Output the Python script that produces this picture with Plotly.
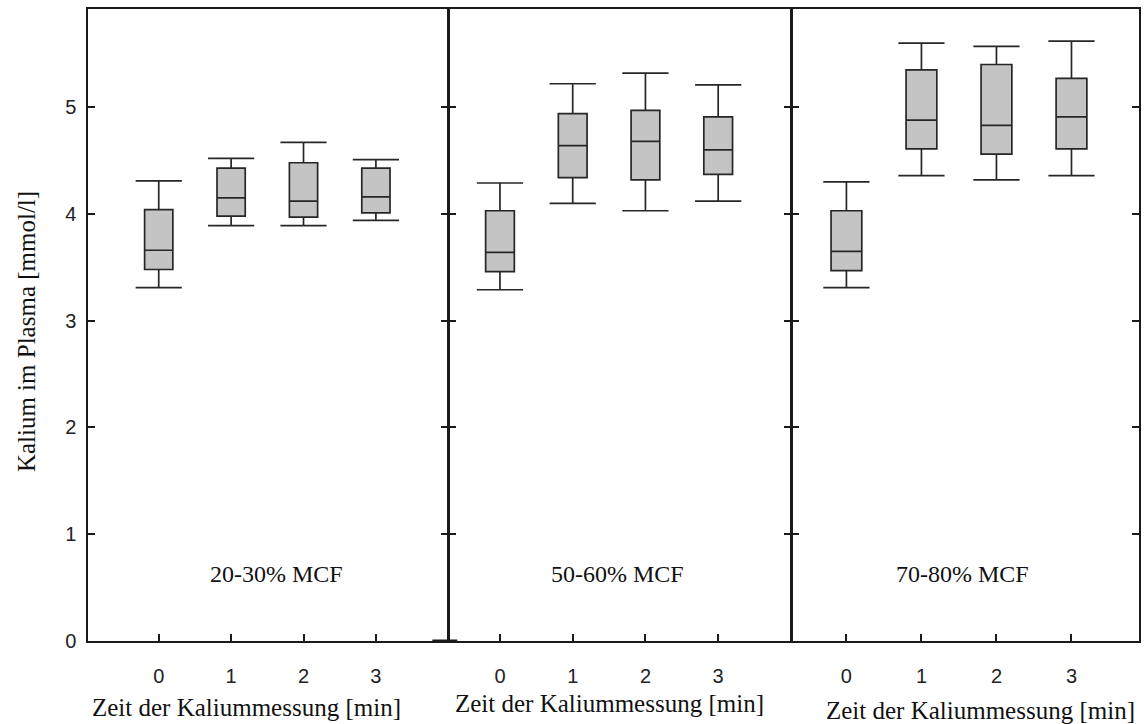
import plotly.graph_objects as go

# ---------------- data ----------------
times = [0, 1, 2, 3]
tick_labels = ["0", "1", "2", "3"]
panel_labels = ["20-30% MCF", "50-60% MCF", "70-80% MCF"]
x_title = "Zeit der Kaliummessung [min]"
y_title = "Kalium im Plasma [mmol/l]"

# Panel 1: 20-30% MCF
p1_lower = [3.31, 3.89, 3.89, 3.94]
p1_q1 = [3.48, 3.98, 3.97, 4.01]
p1_med = [3.66, 4.15, 4.12, 4.16]
p1_q3 = [4.04, 4.43, 4.48, 4.43]
p1_upper = [4.31, 4.52, 4.67, 4.51]

# Panel 2: 50-60% MCF
p2_lower = [3.29, 4.10, 4.03, 4.12]
p2_q1 = [3.46, 4.34, 4.32, 4.37]
p2_med = [3.64, 4.64, 4.68, 4.60]
p2_q3 = [4.03, 4.94, 4.97, 4.91]
p2_upper = [4.29, 5.22, 5.32, 5.21]

# Panel 3: 70-80% MCF
p3_lower = [3.31, 4.36, 4.32, 4.36]
p3_q1 = [3.47, 4.61, 4.56, 4.61]
p3_med = [3.65, 4.88, 4.83, 4.91]
p3_q3 = [4.03, 5.35, 5.40, 5.27]
p3_upper = [4.30, 5.60, 5.57, 5.62]

panels = [
    (p1_lower, p1_q1, p1_med, p1_q3, p1_upper),
    (p2_lower, p2_q1, p2_med, p2_q3, p2_upper),
    (p3_lower, p3_q1, p3_med, p3_q3, p3_upper),
]

# ---------------- layout geometry ----------------
W, H = 1148, 724
ML, MR, MT, MB = 88, 7, 9, 83
PW = W - ML - MR
PH = H - MT - MB

def fx(px):
    return (px - ML) / PW

def fy(py):
    return (H - MB - py) / PH

LW = 1.5
# leave a gap of one line width so that the outward-drawn border lines of
# neighbouring panels fall on the same pixels
domains = [[0, fx(449 - LW / 2)],
           [fx(449 + LW / 2), fx(793 - LW / 2)],
           [fx(793 + LW / 2), 1]]
x_ranges = [[-0.977, 3.99], [-0.70, 4.0], [-0.72, 3.90]]
box_widths = [0.39, 0.395, 0.41]
y_range = [0, 5.92]

LINE = "#1a1a1a"
BOXLINE = "#262626"
FILL = "#c4c4c4"
SANS = "Liberation Sans, Arial, sans-serif"
SERIF = "Liberation Serif, Times New Roman, serif"

fig = go.Figure()

for i, (lo, q1, med, q3, up) in enumerate(panels):
    xa = "x" if i == 0 else f"x{i+1}"
    ya = "y" if i == 0 else f"y{i+1}"
    fig.add_trace(go.Box(
        x=times, q1=q1, median=med, q3=q3, lowerfence=lo, upperfence=up,
        xaxis=xa, yaxis=ya, width=box_widths[i], whiskerwidth=0,
        fillcolor=FILL, line=dict(color=BOXLINE, width=1.7),
        boxpoints=False, showlegend=False, hoverinfo="skip",
    ))
    # whisker caps
    fig.add_trace(go.Scatter(
        x=times + times, y=lo + up, mode="markers",
        marker=dict(symbol="line-ew", size=33, color=BOXLINE,
                    line=dict(color=BOXLINE, width=1.7)),
        xaxis=xa, yaxis=ya, showlegend=False, hoverinfo="skip",
    ))

layout = dict(
    width=W, height=H,
    margin=dict(l=ML, r=MR, t=MT, b=MB),
    paper_bgcolor="white", plot_bgcolor="white",
    showlegend=False,
)

for i in range(3):
    xk = "xaxis" if i == 0 else f"xaxis{i+1}"
    yk = "yaxis" if i == 0 else f"yaxis{i+1}"
    ya = "y" if i == 0 else f"y{i+1}"
    xa = "x" if i == 0 else f"x{i+1}"
    layout[xk] = dict(
        domain=domains[i], range=x_ranges[i], anchor=ya,
        tickmode="array", tickvals=times, ticktext=tick_labels,
        ticks="inside", ticklen=7, tickwidth=1.5, tickcolor=LINE,
        showline=True, linewidth=LW, linecolor=LINE, mirror=True,
        showgrid=False, zeroline=False,
        tickfont=dict(family=SANS, size=20, color="#222"),
        ticklabelstandoff=16,
    )
    layout[yk] = dict(
        domain=[0, 1], range=y_range, anchor=xa,
        tickmode="array", tickvals=[0, 1, 2, 3, 4, 5],
        ticks="inside", ticklen=7, tickwidth=1.5, tickcolor=LINE,
        showline=True, linewidth=LW, linecolor=LINE, mirror="ticks",
        showgrid=False, zeroline=False,
        showticklabels=(i == 0),
        tickfont=dict(family=SANS, size=20, color="#222"),
        ticklabelstandoff=6,
    )

fig.update_layout(**layout)

# small heavy stub at the foot of the middle panel's left axis
fig.add_shape(type="line", xref="paper", yref="y2",
              x0=fx(433), x1=fx(458), y0=0, y1=0,
              line=dict(color=LINE, width=3))

# panel labels
label_x = [1.62, 1.61, 1.55]
for i in range(3):
    xa = "x" if i == 0 else f"x{i+1}"
    ya = "y" if i == 0 else f"y{i+1}"
    fig.add_annotation(
        x=label_x[i], y=0.63, xref=xa, yref=ya, text=panel_labels[i],
        showarrow=False, font=dict(family=SERIF, size=24, color="#111"),
    )

# x titles
title_px = [(247, 708), (610, 703), (982, 710)]
for (px, py) in title_px:
    fig.add_annotation(
        x=fx(px), y=fy(py), xref="paper", yref="paper", text=x_title,
        showarrow=False, font=dict(family=SERIF, size=25, color="#111"),
        xanchor="center", yanchor="middle",
    )

# y title
fig.add_annotation(
    x=fx(26), y=fy(332), xref="paper", yref="paper", text=y_title,
    textangle=-90, showarrow=False,
    font=dict(family=SERIF, size=25, color="#111"),
    xanchor="center", yanchor="middle",
)

fig.write_html("out.html")
